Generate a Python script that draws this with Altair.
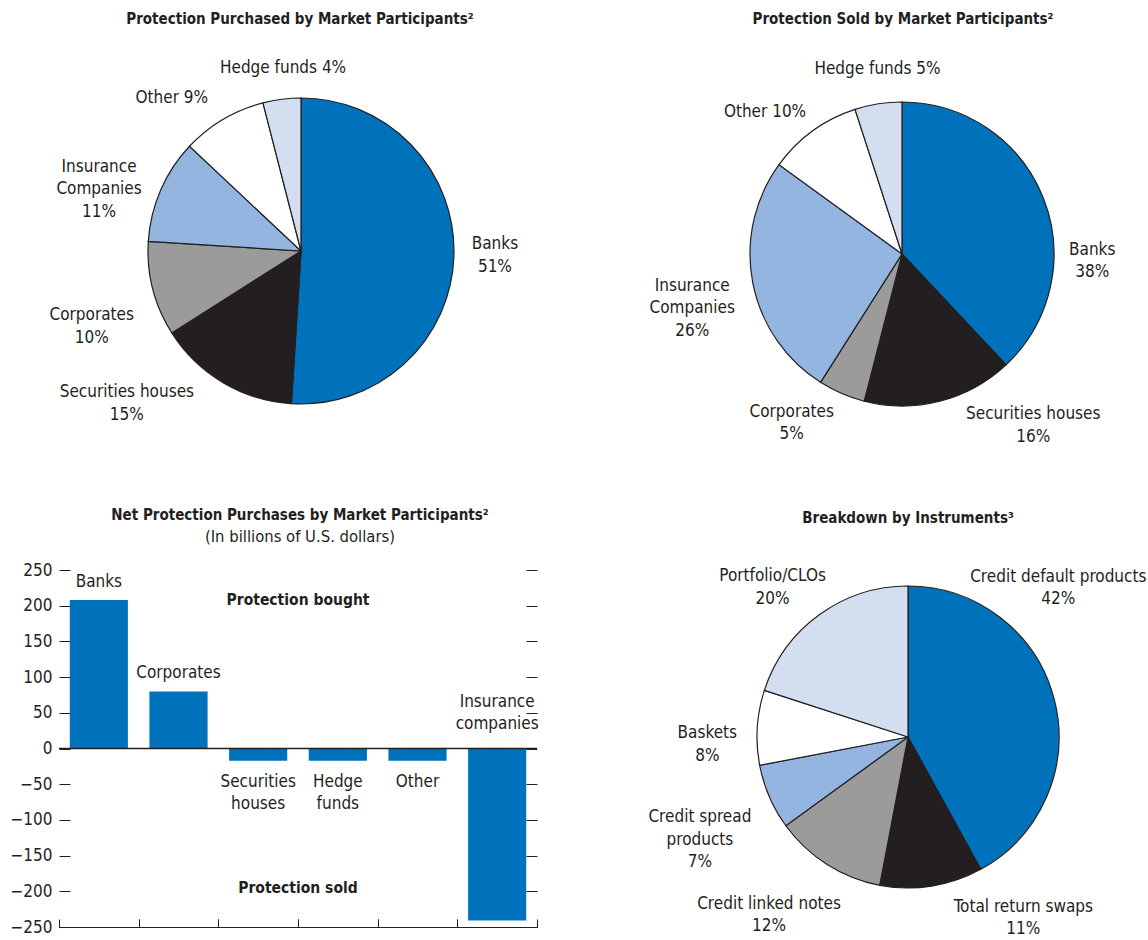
import altair as alt
import pandas as pd

# ---------------- data ----------------
p1_categories = ["Banks", "Securities houses", "Corporates", "Insurance Companies", "Other", "Hedge funds"]
p1_values = [51, 15, 10, 11, 9, 4]
p1_labels = ["Banks\n51%", "Securities houses\n15%", "Corporates\n10%",
             "Insurance\nCompanies\n11%", "Other 9%", "Hedge funds 4%"]

p2_categories = ["Banks", "Securities houses", "Corporates", "Insurance Companies", "Other", "Hedge funds"]
p2_values = [38, 16, 5, 26, 10, 5]
p2_labels = ["Banks\n38%", "Securities houses\n16%", "Corporates\n5%",
             "Insurance\nCompanies\n26%", "Other 10%", "Hedge funds 5%"]

p3_categories = ["Credit default products", "Total return swaps", "Credit linked notes",
                 "Credit spread products", "Baskets", "Portfolio/CLOs"]
p3_values = [42, 11, 12, 7, 8, 20]
p3_labels = ["Credit default products\n42%", "Total return swaps\n11%", "Credit linked notes\n12%",
             "Credit spread\nproducts\n7%", "Baskets\n8%", "Portfolio/CLOs\n20%"]

bar_categories = ["Banks", "Corporates", "Securities houses", "Hedge funds", "Other", "Insurance companies"]
bar_values = [208, 80, -17, -17, -17, -241]
bar_labels = ["Banks", "Corporates", "Securities\nhouses", "Hedge\nfunds", "Other", "Insurance\ncompanies"]
y_ticks = [-250, -200, -150, -100, -50, 0, 50, 100, 150, 200, 250]

# ---------------- style ----------------
FONT = "Liberation Sans Narrow, DejaVu Sans Condensed, sans-serif"
INK = "#231F20"
PALETTE = ["#0072BC", "#231F20", "#9B9B9B", "#94B5E0", "#FFFFFF", "#D3DFF1"]
LABEL_SIZE = 17
LINE_H = 22.5
TITLE_SIZE = 15

# label nudges (dx, dy) of the label block centre from the slice mid-angle anchor at radius R + 30
p1_nudges = [(11, -1), (-81, -5), (-32, 30), (-34, 11), (-36, 5), (5, -1)]
p2_nudges = [(21, 74), (86, -5), (-38, 2), (-31, 20), (-30, 5), (4, -5)]
p3_nudges = [(-25, -104), (87, 2), (-42, 25), (-42, 31), (-20, 19), (-29, -3)]


def title_layer(text, x, y, size=TITLE_SIZE, weight="bold"):
    return alt.Chart(pd.DataFrame({"t": [text]})).mark_text(
        font=FONT, fontSize=size, fontWeight=weight, color=INK, align="center", baseline="middle"
    ).encode(text="t:N", x=alt.value(x), y=alt.value(y))


def pie(cats, vals, labels, nudges, cx, cy, R, w, h, title, tx, ty, extra=()):
    df = pd.DataFrame({"category": cats, "value": vals, "label": labels, "order": list(range(len(cats)))})
    theta_scale = alt.Scale(domain=[0, 100])
    arcs = alt.Chart(df).mark_arc(outerRadius=R, stroke=INK, strokeWidth=1.2).encode(
        theta=alt.Theta("value:Q", stack=True, scale=theta_scale),
        color=alt.Color("category:N", scale=alt.Scale(domain=cats, range=PALETTE), legend=None),
        order=alt.Order("order:Q"),
        x=alt.value(cx), y=alt.value(cy),
    )
    base = alt.Chart(df).transform_window(
        cum="sum(value)", sort=[alt.SortField("order")]
    ).transform_calculate(mid="datum.cum - datum.value / 2")
    layers = [arcs]
    for i, (dx, dy) in enumerate(nudges):
        # multi-line text grows downward from the first line: shift up to centre the block
        dy_eff = dy - labels[i].count("\n") * LINE_H / 2
        layers.append(
            base.transform_filter(f"datum.order == {i}").mark_text(
                radius=R + 30, dx=dx, dy=dy_eff, font=FONT, fontSize=LABEL_SIZE, lineHeight=LINE_H,
                lineBreak="\n", align="center", baseline="middle", color=INK,
            ).encode(theta=alt.Theta("mid:Q", scale=theta_scale), text="label:N",
                     x=alt.value(cx), y=alt.value(cy))
        )
    layers.append(title_layer(title, tx, ty))
    layers.extend(extra)
    return alt.layer(*layers).properties(width=w, height=h)


# anchor at page (0,0) so the layout origin is fixed
anchor = alt.Chart(pd.DataFrame({"a": [0]})).mark_rule(color="white", strokeWidth=1).encode(
    x=alt.value(-58.5), x2=alt.value(-57.5), y=alt.value(0.5)
)

pie1 = pie(p1_categories, p1_values, p1_labels, p1_nudges, 242, 251, 153, 541, 570,
           "Protection Purchased by Market Participants²", 241, 19, extra=[anchor])
pie2 = pie(p2_categories, p2_values, p2_labels, p2_nudges, 302, 254, 152, 548, 570,
           "Protection Sold by Market Participants²", 303, 19)
pie3 = pie(p3_categories, p3_values, p3_labels, p3_nudges, 308, 167, 151, 548, 357,
           "Breakdown by Instruments³", 308, -52)

# ---------------- bar chart ----------------
BW, BH = 478, 357
PAD_IN = 0.27
N = len(bar_categories)
STEP = BW / N
HALF_GAP = PAD_IN * STEP / 2
bdf = pd.DataFrame({"category": bar_categories, "value": bar_values, "label": bar_labels})
y_scale = alt.Scale(domain=[-250, 250], nice=False)
x_scale = alt.Scale(paddingInner=PAD_IN, paddingOuter=PAD_IN / 2)


def x_axis(band_pos, offset):
    return alt.Axis(orient="top", offset=-BH, labels=False, title=None, tickSize=8, bandPosition=band_pos,
                    tickOffset=offset, domainColor=INK, tickColor=INK, domainWidth=1, tickWidth=1, grid=False)


def x_enc(axis=None):
    return alt.X("category:N", sort=bar_categories, scale=x_scale, axis=axis)


bars = alt.Chart(bdf).mark_bar(color="#0072BC").encode(
    x=x_enc(x_axis(0, -HALF_GAP)),
    y=alt.Y("value:Q", scale=y_scale,
            axis=alt.Axis(orient="left", values=y_ticks, ticks=False, domain=False, labelPadding=7,
                          labelFontSize=LABEL_SIZE, labelFont=FONT, labelColor=INK, title=None, grid=False)),
)

zero = alt.Chart(pd.DataFrame({"zero": [0]})).mark_rule(color=INK, strokeWidth=1.5).encode(
    y=alt.Y("zero:Q", scale=y_scale,
            axis=alt.Axis(orient="right", offset=-BW, values=y_ticks, labels=False, domain=False,
                          tickSize=11, tickColor=INK, tickWidth=1, title=None, grid=False)),
)

lab_base = alt.Chart(bdf).transform_calculate(anchor="datum.value < -100 ? 0 : datum.value")
txt = dict(font=FONT, fontSize=LABEL_SIZE, lineHeight=LINE_H, lineBreak="\n", align="center", color=INK)

lab_pos = lab_base.transform_filter("datum.value > 0").mark_text(baseline="bottom", dy=-9, **txt).encode(
    x=x_enc(), y=alt.Y("anchor:Q", scale=y_scale, axis=None), text="label:N")
lab_big = lab_base.transform_filter("datum.value < -100").mark_text(baseline="bottom", dy=-38, **txt).encode(
    x=x_enc(x_axis(1, HALF_GAP)), y=alt.Y("anchor:Q", scale=y_scale, axis=None), text="label:N")
lab_neg = lab_base.transform_filter("datum.value < 0 && datum.value >= -100").mark_text(
    baseline="top", dy=13, **txt).encode(
    x=x_enc(),
    y=alt.Y("anchor:Q", scale=y_scale,
            axis=alt.Axis(orient="left", offset=-BW, values=y_ticks, labels=False, domain=False,
                          tickSize=11, tickColor=INK, tickWidth=1, title=None, grid=False)),
    text="label:N")

bought = title_layer("Protection bought", 239, 30, size=15.5)
sold = title_layer("Protection sold", 239, 318, size=15.5)
btitle = title_layer("Net Protection Purchases by Market Participants²", 241, -55)
bsub = title_layer("(In billions of U.S. dollars)", 241, -33, size=16.5, weight="normal")

bar_chart = alt.layer(bars, zero, lab_pos, lab_big, lab_neg, bought, sold, btitle, bsub).resolve_axis(
    x="independent", y="independent").properties(width=BW, height=BH)

chart = alt.concat(pie1, pie2, bar_chart, pie3, columns=2, spacing=0, bounds="flush").properties(
    padding=0, background="white").configure_view(stroke="transparent", strokeWidth=0)

chart.save("out.html", embed_options={"renderer": "svg", "actions": False})
